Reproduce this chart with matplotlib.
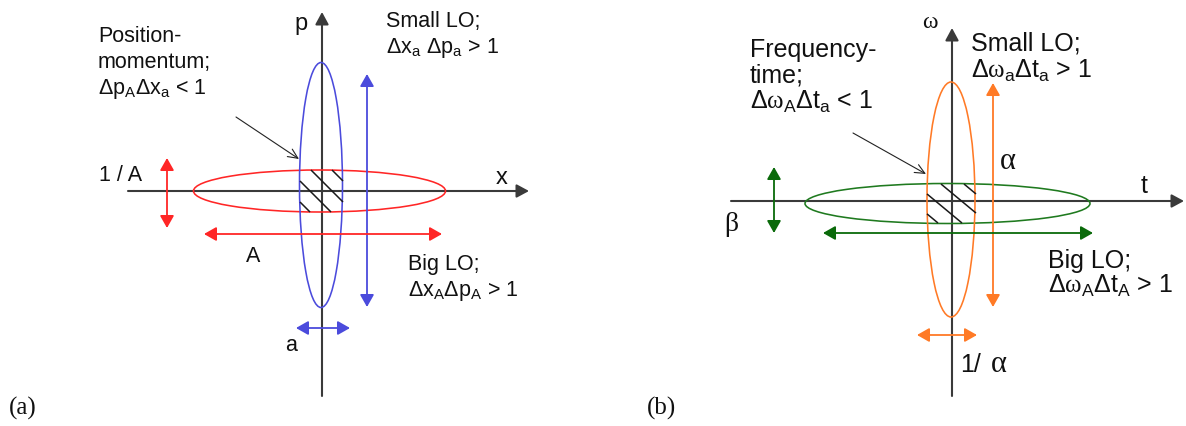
import matplotlib
matplotlib.use('Agg')
import matplotlib.pyplot as plt
from matplotlib.patches import Ellipse, FancyArrowPatch, ArrowStyle

W, H = 1186, 426
SANS = 'Liberation Sans'
SERIF = 'Liberation Serif'
plt.rcParams['font.family'] = [SANS, 'DejaVu Sans']
plt.rcParams['mathtext.fontset'] = 'custom'
plt.rcParams['mathtext.rm'] = SANS
plt.rcParams['mathtext.it'] = SERIF
plt.rcParams['mathtext.sf'] = SANS
plt.rcParams['mathtext.default'] = 'rm'

AXIS_C = '#3a3a3a'
BLUE = '#4b4bdc'
RED = '#ff2626'
ORANGE = '#ff7a26'
GREEN = '#1f7a1f'
GREEN_DARK = '#0a6a0a'

# ---- geometry (pixel space, y downward) ----
# axes: (x0, y0, x1, y1) drawn from start to arrow tip
axes_lines = [
    (128, 191, 529, 191), (322, 396, 322, 12),      # panel (a) x, p
    (731, 201, 1184, 201), (952, 396, 952, 28),     # panel (b) t, omega
]
# ellipses: (cx, cy, width, height, colour)
ellipses = [
    (319.5, 191, 252, 42, RED),
    (321, 185, 43, 245, BLUE),
    (947.5, 203.5, 285, 40, GREEN),
    (951, 199.5, 48, 235, ORANGE),
]
# double arrows: (x0, y0, x1, y1, colour)
double_arrows = [
    (367, 74, 367, 307, BLUE),
    (296, 328, 350, 328, BLUE),
    (167, 158, 167, 228, RED),
    (204, 234, 442, 234, RED),
    (993, 83, 993, 307, ORANGE),
    (917, 335, 977, 335, ORANGE),
    (774, 167, 774, 233, GREEN_DARK),
    (823, 233, 1093, 233, GREEN_DARK),
]
# pointer arrows: (x0, y0, x1, y1)
pointers = [(236, 117, 299, 159), (853, 133, 926, 174)]
# hatch: rect (xl, xr, yt, yb), slope dy/dx, line starts at top edge
hatch_a = dict(rect=(300, 343, 170, 212), slope=1.0, starts=[268, 289, 311, 332])
hatch_b = dict(rect=(927, 976, 184, 223), slope=0.83, starts=[891, 915, 941, 964])

FA = 15.5   # text size, panel (a)
FB = 18.0   # text size, panel (b)
# labels: (x, baseline_y, text, size, family, ha)
labels = [
    (98, 42, 'Position-', FA, SANS, 'left'),
    (98, 68, 'momentum;', FA, SANS, 'left'),
    (98, 94, r'Δp$_\mathrm{A}$Δx$_\mathrm{a}$ < 1', FA, SANS, 'left'),
    (386, 27, 'Small LO;', FA, SANS, 'left'),
    (386, 53, r'Δx$_\mathrm{a}$ Δp$_\mathrm{a}$ > 1', FA, SANS, 'left'),
    (408, 270, 'Big LO;', FA, SANS, 'left'),
    (408, 296, r'Δx$_\mathrm{A}$Δp$_\mathrm{A}$ > 1', FA, SANS, 'left'),
    (294, 30, 'p', 17, SANS, 'left'),
    (496, 184, 'x', 17, SANS, 'left'),
    (99, 181, '1 / A', FA, SANS, 'left'),
    (246, 262, 'A', FA, SANS, 'left'),
    (285, 351, 'a', FA, SANS, 'left'),
    (9, 415, '(a)', 18, SERIF, 'left'),
    (750, 57, 'Frequency-', FB, SANS, 'left'),
    (750, 83, 'time;', FB, SANS, 'left'),
    (750, 109, r'Δ$\mathit{\omega}_\mathrm{A}$Δt$_\mathrm{a}$ < 1', FB, SANS, 'left'),
    (971, 50, 'Small LO;', FB, SANS, 'left'),
    (971, 78, r'Δ$\mathit{\omega}_\mathrm{a}$Δt$_\mathrm{a}$ > 1', FB, SANS, 'left'),
    (1048, 268, 'Big LO;', FB, SANS, 'left'),
    (1048, 293, r'Δ$\mathit{\omega}_\mathrm{A}$Δt$_\mathrm{A}$ > 1', FB, SANS, 'left'),
    (922, 28, 'ω', 17, SERIF, 'left'),
    (1141, 193, 't', 18, SANS, 'left'),
    (1000, 169, 'α', 22, SERIF, 'left'),
    (724, 231, 'β', 20, SERIF, 'left'),
    (960, 372, '1/', 18, SANS, 'left'),
    (991, 372, 'α', 22, SERIF, 'left'),
    (647, 415, '(b)', 18, SERIF, 'left'),
]

fig = plt.figure(figsize=(W / 100, H / 100), dpi=100)
ax = fig.add_axes([0, 0, 1, 1])
ax.set_xlim(0, W)
ax.set_ylim(H, 0)
ax.axis('off')

for x0, y0, x1, y1 in axes_lines:
    ax.add_patch(FancyArrowPatch((x0, y0), (x1, y1),
                 arrowstyle=ArrowStyle('-|>', head_length=7.4, head_width=4.0),
                 mutation_scale=1, lw=1.5, color=AXIS_C, shrinkA=0, shrinkB=0,
                 zorder=2))

for cx, cy, w, h, c in ellipses:
    ax.add_patch(Ellipse((cx, cy), w, h, fill=False, ec=c, lw=1.15, zorder=3))

for x0, y0, x1, y1, c in double_arrows:
    ax.add_patch(FancyArrowPatch((x0, y0), (x1, y1),
                 arrowstyle=ArrowStyle('<|-|>', head_length=7.4, head_width=4.2),
                 mutation_scale=1, lw=1.3, color=c, shrinkA=0, shrinkB=0, zorder=3))

for x0, y0, x1, y1 in pointers:
    ax.add_patch(FancyArrowPatch((x0, y0), (x1, y1),
                 arrowstyle=ArrowStyle('->', head_length=7.0, head_width=3.2),
                 mutation_scale=1, lw=0.8, color='#222222', shrinkA=0, shrinkB=0,
                 zorder=4))


def draw_hatch(spec):
    xl, xr, yt, yb = spec['rect']
    s = spec['slope']
    for x0 in spec['starts']:
        t0 = max(xl - x0, 0.0)
        t1 = min(xr - x0, (yb - yt) / s)
        if t1 <= t0:
            continue
        ax.plot([x0 + t0, x0 + t1], [yt + s * t0, yt + s * t1],
                color='#1a1a1a', lw=1.1, zorder=4, solid_capstyle='butt')


draw_hatch(hatch_a)
draw_hatch(hatch_b)

for x, y, t, size, fam, ha in labels:
    ax.text(x, y, t, fontsize=size, family=[fam, 'DejaVu Sans'], ha=ha,
            va='baseline', color='#111111', zorder=5)

fig.savefig('out.png', dpi=100, facecolor='white')
